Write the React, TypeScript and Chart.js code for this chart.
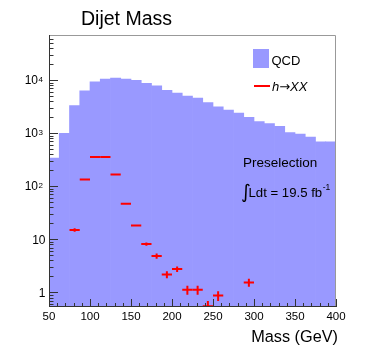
import { useEffect, useRef } from "react";
import { Chart, registerables } from "chart.js";

Chart.register(...registerables);

// QCD background histogram: 12.5 GeV bins from 50 to 400 GeV
const qcdBinCenters = [
  56.25, 68.75, 81.25, 93.75, 106.25, 118.75, 131.25, 143.75, 156.25, 168.75,
  181.25, 193.75, 206.25, 218.75, 231.25, 243.75, 256.25, 268.75, 281.25, 293.75,
  306.25, 318.75, 331.25, 343.75, 356.25, 368.75, 381.25, 393.75,
];
const qcdEvents = [
  340, 1000, 3330, 6300, 9300, 10500, 11000, 10500, 9900, 8700,
  7800, 6450, 5700, 5000, 4600, 3790, 3140, 2720, 2390, 2000,
  1660, 1520, 1350, 1030, 960, 850, 690, 690,
];

// h -> XX signal points
const signalBinCenters = [
  81.25, 93.75, 106.25, 118.75, 131.25, 143.75, 156.25, 168.75,
  181.25, 193.75, 206.25, 218.75, 231.25, 243.75, 256.25, 293.75,
];
const signalEvents = [
  15, 134, 358, 358, 167, 47, 18.3, 8.15,
  4.85, 2.18, 2.76, 1.12, 1.12, 0.55, 0.87, 1.54,
];
const signalErrors = [
  1.1, 3, 5, 5, 4, 1.5, 0.8, 0.6,
  0.55, 0.33, 0.33, 0.22, 0.22, 0.14, 0.18, 0.26,
];
const signalHalfBin = 6.25;

const xMin = 50;
const xMax = 400;
const xMajorStep = 50;
const xMinorStep = 10;
const yMin = 0.53;
const yMax = 71000;
const yDecades = [0, 1, 2, 3, 4];

const FONT = '"Liberation Sans", Arial, Helvetica, sans-serif';
const QCD_COLOR = "#9999ff";
const SIG_COLOR = "#ff0000";

export default function App() {
  const ref = useRef<HTMLCanvasElement>(null);

  useEffect(() => {
    const canvas = ref.current;
    if (!canvas) return;

    const rootStyle = {
      id: "rootStyle",
      afterDatasetsDraw(chart: any) {
        const { ctx, chartArea: a, scales } = chart;
        const x = scales.x;
        const y = scales.y;

        // signal crosses (error bars)
        const meta = chart.getDatasetMeta(1);
        ctx.save();
        ctx.beginPath();
        ctx.rect(a.left, a.top, a.right - a.left, a.bottom - a.top);
        ctx.clip();
        ctx.strokeStyle = SIG_COLOR;
        ctx.lineWidth = 2;
        meta.data.forEach((pt: any, i: number) => {
          const c = signalBinCenters[i];
          const v = signalEvents[i];
          const e = signalErrors[i];
          const x0 = x.getPixelForValue(c - signalHalfBin);
          const x1 = x.getPixelForValue(c + signalHalfBin);
          const yHi = y.getPixelForValue(v + e);
          const yLo = y.getPixelForValue(Math.max(v - e, 1e-3));
          ctx.beginPath();
          ctx.moveTo(x0, pt.y);
          ctx.lineTo(x1, pt.y);
          ctx.moveTo(pt.x, yHi);
          ctx.lineTo(pt.x, yLo);
          ctx.stroke();
        });
        ctx.restore();

        // tick marks inside frame
        ctx.save();
        ctx.strokeStyle = "#333";
        ctx.lineWidth = 1;
        ctx.beginPath();
        for (let v = xMin; v <= xMax + 0.001; v += xMinorStep) {
          const px = Math.round(x.getPixelForValue(v)) + 0.5;
          const len = Math.abs(v % xMajorStep) < 0.001 ? 8 : 4;
          ctx.moveTo(px, a.bottom);
          ctx.lineTo(px, a.bottom - len);
        }
        for (let d = -1; d <= 4; d++) {
          for (let m = 1; m <= 9; m++) {
            const v = m * Math.pow(10, d);
            if (v < yMin || v > yMax) continue;
            const py = Math.round(y.getPixelForValue(v)) + 0.5;
            const len = m === 1 ? 9 : 4.5;
            ctx.moveTo(a.left, py);
            ctx.lineTo(a.left + len, py);
          }
        }
        ctx.stroke();

        // frame
        ctx.strokeStyle = "#999";
        ctx.beginPath();
        ctx.moveTo(a.left, a.top + 0.5);
        ctx.lineTo(a.right - 0.5, a.top + 0.5);
        ctx.lineTo(a.right - 0.5, a.bottom);
        ctx.stroke();
        ctx.strokeStyle = "#333";
        ctx.beginPath();
        ctx.moveTo(a.left + 0.5, a.top);
        ctx.lineTo(a.left + 0.5, a.bottom - 0.5);
        ctx.lineTo(a.right, a.bottom - 0.5);
        ctx.stroke();
        ctx.restore();
      },
      afterDraw(chart: any) {
        const { ctx, chartArea: a, scales } = chart;
        const y = scales.y;
        ctx.save();
        ctx.fillStyle = "#000";
        ctx.textBaseline = "alphabetic";

        // y tick labels
        yDecades.forEach((d) => {
          const py = y.getPixelForValue(Math.pow(10, d));
          ctx.font = `12px ${FONT}`;
          if (d <= 1) {
            ctx.textAlign = "right";
            ctx.fillText(String(Math.pow(10, d)), a.left - 3.5, py + 4.2);
          } else {
            ctx.textAlign = "right";
            ctx.fillText("10", a.left - 11, py + 4.2);
            ctx.font = `8px ${FONT}`;
            ctx.textAlign = "left";
            ctx.fillText(String(d), a.left - 10.5, py + 1.5);
          }
        });

        // title
        ctx.textAlign = "left";
        ctx.font = `19.5px ${FONT}`;
        ctx.fillText("Dijet Mass", 81, 25);

        // x axis title
        ctx.textAlign = "right";
        ctx.font = `16.3px ${FONT}`;
        ctx.fillText("Mass (GeV)", 338, 341.5);

        // legend
        ctx.fillStyle = QCD_COLOR;
        ctx.fillRect(253, 49, 16, 19);
        ctx.fillStyle = "#000";
        ctx.textAlign = "left";
        ctx.font = `13px ${FONT}`;
        ctx.fillText("QCD", 271.5, 64.5);
        ctx.strokeStyle = SIG_COLOR;
        ctx.lineWidth = 2;
        ctx.beginPath();
        ctx.moveTo(254, 86);
        ctx.lineTo(270, 86);
        ctx.stroke();
        let tx = 272;
        ctx.font = `italic 13px ${FONT}`;
        ctx.fillText("h", tx, 90.5);
        tx += ctx.measureText("h").width;
        ctx.font = `13px "DejaVu Sans", ${FONT}`;
        ctx.fillText("\u2192", tx, 90.5);
        tx += ctx.measureText("\u2192").width;
        ctx.font = `italic 13px ${FONT}`;
        ctx.fillText("XX", tx, 90.5);

        // annotations
        ctx.font = `13.5px ${FONT}`;
        ctx.fillText("Preselection", 243, 166.5);
        ctx.font = `19px "DejaVu Sans", ${FONT}`;
        ctx.fillText("\u222B", 241, 198);
        ctx.font = `13.2px ${FONT}`;
        ctx.fillText("Ldt = 19.5 fb", 248.5, 196.5);
        const w = ctx.measureText("Ldt = 19.5 fb").width;
        ctx.font = `8.5px ${FONT}`;
        ctx.fillText("-1", 248.5 + w + 0.5, 190);

        ctx.restore();
      },
    };

    const chart = new Chart(canvas, {
      type: "bar",
      data: {
        datasets: [
          {
            type: "bar",
            label: "QCD",
            data: qcdBinCenters.map((c, i) => ({ x: c, y: qcdEvents[i] })),
            backgroundColor: QCD_COLOR,
            borderWidth: 0,
            barPercentage: 1,
            categoryPercentage: 1,
            order: 2,
          } as any,
          {
            type: "scatter",
            label: "h\u2192XX",
            data: signalBinCenters.map((c, i) => ({ x: c, y: signalEvents[i] })),
            pointRadius: 0,
            showLine: false,
            order: 1,
          } as any,
        ],
      },
      options: {
        responsive: false,
        animation: false,
        events: [],
        layout: { padding: { left: 0, right: 38, top: 35, bottom: 0 } },
        plugins: {
          legend: { display: false },
          title: { display: false },
          tooltip: { enabled: false },
        },
        scales: {
          x: {
            type: "linear",
            min: xMin,
            max: xMax,
            offset: false,
            grid: { display: false, drawTicks: false },
            border: { display: false },
            ticks: {
              stepSize: xMajorStep,
              padding: 2.5,
              color: "#000",
              maxRotation: 0,
              autoSkip: false,
              font: { family: FONT, size: 11.5 },
            },
            afterFit: (s: any) => {
              s.height = 48;
            },
          },
          y: {
            type: "logarithmic",
            min: yMin,
            max: yMax,
            grid: { display: false, drawTicks: false },
            border: { display: false },
            ticks: { display: false },
            afterFit: (s: any) => {
              s.width = 49;
            },
          },
        },
      } as any,
      plugins: [rootStyle],
    });

    return () => chart.destroy();
  }, []);

  return (
    <div style={{ position: "fixed", left: 0, top: 0, width: 374, height: 355, background: "#fff" }}>
      <canvas ref={ref} width={374} height={355} style={{ display: "block", width: 374, height: 355 }} />
    </div>
  );
}
